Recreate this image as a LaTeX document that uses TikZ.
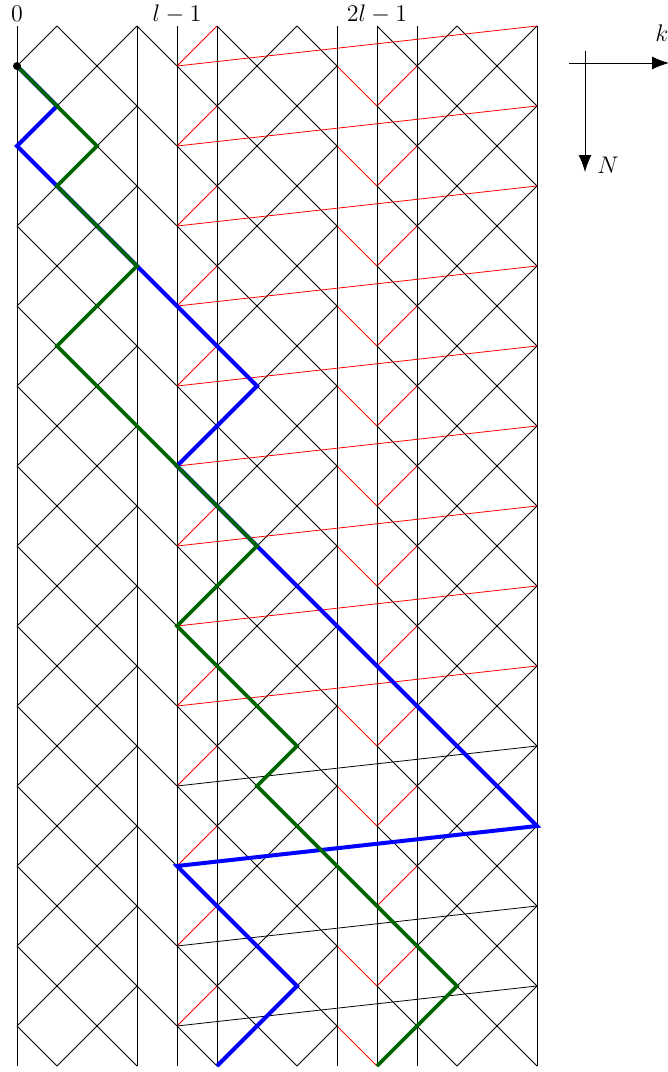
\documentclass[tikz,border=0pt]{standalone}
\usetikzlibrary{arrows.meta}
\definecolor{pathgreen}{RGB}{0,100,0}
\tikzset{
  lat/.style={black, line width=0.4pt},
  latred/.style={red, line width=0.4pt},
  bluepath/.style={blue, line width=2pt},
  greenpath/.style={pathgreen, line width=1.8pt},
  axisarrow/.style={black, line width=0.5pt, -{Latex[length=8.5pt,width=6.5pt]}},
  toplabel/.style={anchor=base, inner sep=0pt, font=\fontsize{11.5}{14}\selectfont}
}
\begin{document}
\begin{tikzpicture}[x=20pt,y=20pt]
\useasboundingbox (-0.425,0.65) rectangle (16.275,-26.15);
% diamond lattice
\foreach \s in {0,...,12}{
  \foreach \r in {0,...,25}{
    \pgfmathtruncatemacro\odd{mod(\s+\r,2)}
    \ifnum\odd=1
      \ifnum\s=8
        \draw[latred] (\s,-\r) -- ++(1,-1);
      \else
        \draw[lat] (\s,-\r) -- ++(1,-1);
      \fi
    \else
      \ifnum\s=3 \else
      \ifnum\s=8 \else
        \ifnum\s=4
          \draw[latred] (\s+1,-\r) -- ++(-1,-1);
        \else
          \ifnum\s=9
            \draw[latred] (\s+1,-\r) -- ++(-1,-1);
          \else
            \draw[lat] (\s+1,-\r) -- ++(-1,-1);
          \fi
        \fi
      \fi\fi
    \fi
  }
}
% vertical lines
\foreach \c in {0,3,4,5,8,9,10,13}{
  \draw[lat] (\c,0) -- (\c,-26);
}
% wrap lines
\foreach \r in {1,3,...,25}{
  \pgfmathtruncatemacro\rr{\r-1}
  \ifnum\r<18
    \draw[latred] (4,-\r) -- (13,-\rr);
  \else
    \draw[lat] (4,-\r) -- (13,-\rr);
  \fi
}
% column labels
\node[toplabel] (lab0) at (0,0.125) {$0$};
\node[toplabel] (labl) at (4,0.125) {$l-1$};
\node[toplabel] (lab2l) at (9,0.125) {$2l-1$};
% path vertices
\coordinate (b0) at (0,-1);
\coordinate (b1) at (1,-2);
\coordinate (b2) at (0,-3);
\coordinate (b3) at (3,-6);
\coordinate (b4) at (6,-9);
\coordinate (b5) at (4,-11);
\coordinate (b6) at (6,-13);
\coordinate (b7) at (13,-20);
\coordinate (b8) at (4,-21);
\coordinate (b9) at (7,-24);
\coordinate (b10) at (5,-26);
\coordinate (g1) at (2,-3);
\coordinate (g2) at (1,-4);
\coordinate (g3) at (3,-6);
\coordinate (g4) at (1,-8);
\coordinate (g5) at (4,-11);
\coordinate (g6) at (6,-13);
\coordinate (g7) at (4,-15);
\coordinate (g8) at (7,-18);
\coordinate (g9) at (6,-19);
\coordinate (g10) at (11,-24);
\coordinate (g11) at (9,-26);
\draw[bluepath] (b0) -- (b1) -- (b2) -- (b3) -- (b4) -- (b5) -- (b6) -- (b7) -- (b8) -- (b9) -- (b10);
\draw[greenpath] (b0) -- (g1) -- (g2) -- (g3) -- (g4) -- (g5) -- (g6) -- (g7) -- (g8) -- (g9) -- (g10) -- (g11);
\fill[black] (b0) circle (2pt);
% axes
\coordinate (kS) at (13.8,-0.925);
\coordinate (kE) at (16.3,-0.925);
\coordinate (nS) at (14.2,-0.625);
\coordinate (nE) at (14.2,-3.65);
\draw[axisarrow] (kS) -- (kE);
\draw[axisarrow] (nS) -- (nE);
\node[toplabel] (klab) at (16.125,-0.375) {$k$};
\node[toplabel, anchor=base west] (nlab) at (14.5,-3.675) {$N$};
\end{tikzpicture}
\end{document}
